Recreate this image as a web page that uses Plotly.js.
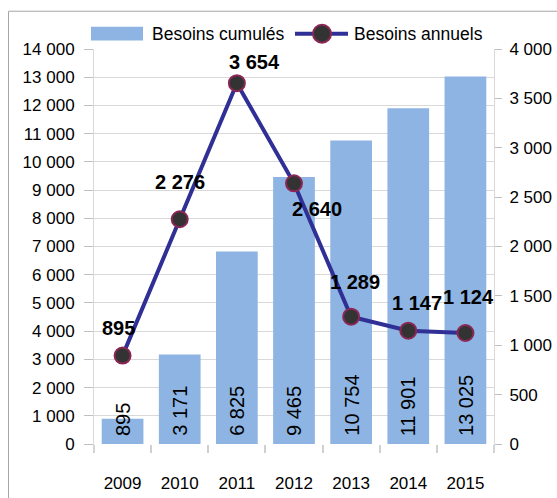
<!DOCTYPE html>
<html>
<head>
<meta charset="utf-8">
<script src="https://cdn.plot.ly/plotly-3.0.1.min.js"></script>
<style>
html,body{margin:0;padding:0;background:#fff;}
#chart{width:557px;height:498px;}
</style>
</head>
<body>
<div id="chart"></div>
<script>
// ---- data ----
const years = ['2009','2010','2011','2012','2013','2014','2015'];
const cumulative = [895, 3171, 6825, 9465, 10754, 11901, 13025];
const annual = [895, 2276, 3654, 2640, 1289, 1147, 1124];
const seriesNames = ['Besoins cumulés', 'Besoins annuels'];

// ---- style ----
const FONT = '"Liberation Sans", Arial, sans-serif';
const barColor = '#8db4e2';
const lineColor = '#2f2f96';
const gridColor = '#d9d9d9';

function fmt(v){ return String(v).replace(/\B(?=(\d{3})+(?!\d))/g, '\u00a0'); }

// label offsets (pixels) for annual labels relative to their points
const lblShift = [[-4,28],[0,37],[18,21],[23,-26],[4,35],[9,28],[3,36]];

const traces = [
  {type:'bar', x:years, y:cumulative, name:seriesNames[0], marker:{color:barColor}, yaxis:'y', hoverinfo:'x+y', showlegend:false},
  {type:'scatter', mode:'lines+markers', x:years, y:annual, name:seriesNames[1], yaxis:'y2',
   line:{color:lineColor, width:4},
   marker:{size:16, color:'#333333', line:{color:'#8b2755', width:2}}, showlegend:false}
];

const annotations = [];
years.forEach((yr,i)=>{
  annotations.push({x:i, y:0, xref:'x', yref:'y', text:fmt(cumulative[i]), showarrow:false,
    textangle:-90, yanchor:'bottom', xanchor:'center', yshift:6,
    font:{family:FONT, size:20, color:'#000'}});
  annotations.push({x:i, y:annual[i], xref:'x', yref:'y2', text:'<b>'+fmt(annual[i])+'</b>', showarrow:false,
    xanchor:'center', yanchor:'middle', xshift:lblShift[i][0], yshift:lblShift[i][1],
    font:{family:FONT, size:20, color:'#000'}});
});

// plot area pixel geometry -> paper coords helpers
const L=94, R=494, T=49.3, B=444.5;
const px = v => (v-L)/(R-L);
const py = v => (B-v)/(B-T);

// custom legend
annotations.push({xref:'paper', yref:'paper', x:px(150), y:py(34), xanchor:'left', yanchor:'middle',
  text:seriesNames[0], showarrow:false, font:{family:FONT, size:17.5, color:'#000'}});
annotations.push({xref:'paper', yref:'paper', x:px(352), y:py(34), xanchor:'left', yanchor:'middle',
  text:seriesNames[1], showarrow:false, font:{family:FONT, size:17.5, color:'#000'}});

const shapes = [
  // outer frame
  {type:'rect', xref:'paper', yref:'paper', x0:px(8.5), x1:px(600), y0:py(600), y1:py(11.5),
   line:{color:'#a6a6a6', width:1}, fillcolor:'rgba(0,0,0,0)', layer:'below'},
  // axis stubs below zero
  {type:'line', xref:'paper', yref:'paper', x0:0, x1:0, y0:py(452), y1:0, line:{color:gridColor, width:1}},
  {type:'line', xref:'paper', yref:'paper', x0:1, x1:1, y0:py(452), y1:0, line:{color:gridColor, width:1}},
  // legend swatch
  {type:'rect', xref:'paper', yref:'paper', x0:px(91), x1:px(143), y0:py(40.7), y1:py(27),
   line:{width:0}, fillcolor:barColor},
  // legend line
  {type:'line', xref:'paper', yref:'paper', x0:px(295), x1:px(348), y0:py(34), y1:py(34),
   line:{color:lineColor, width:4}},
  // legend marker
  {type:'circle', xref:'paper', yref:'paper', x0:px(313), x1:px(331), y0:py(43), y1:py(25),
   line:{color:'#8b2755', width:2}, fillcolor:'#333333'}
];

const tickFont = {family:FONT, size:17, color:'#000'};

const layout = {
  width:557, height:498,
  margin:{l:L, r:557-R, t:T, b:498-B, pad:0},
  paper_bgcolor:'#fff', plot_bgcolor:'#fff',
  separators:', ',
  showlegend:false,
  bargap:0.27,
  font:{family:FONT, size:17, color:'#000'},
  xaxis:{type:'category', range:[-0.5,6.5], showgrid:false, showline:false, zeroline:false,
    ticks:'outside', tickson:'boundaries', ticklen:8, tickwidth:2, tickcolor:'#d0d0d0',
    tickangle:0, ticklabelstandoff:27, tickfont:tickFont},
  yaxis:{range:[0,14000], dtick:1000, tickformat:',d', showgrid:true, gridcolor:gridColor, gridwidth:1,
    zeroline:false, showline:true, linecolor:gridColor, linewidth:1,
    ticks:'outside', ticklen:9, tickcolor:'#bfbfbf', tickwidth:1, ticklabelstandoff:6,
    tickfont:tickFont},
  yaxis2:{range:[0,4000], dtick:500, tickformat:',d', overlaying:'y', side:'right', showgrid:false,
    zeroline:false, showline:true, linecolor:gridColor, linewidth:1,
    ticks:'outside', ticklen:7, tickcolor:'#bfbfbf', tickwidth:1, ticklabelstandoff:4,
    tickfont:tickFont},
  annotations:annotations,
  shapes:shapes
};

Plotly.newPlot('chart', traces, layout, {displayModeBar:false, staticPlot:true});
</script>
</body>
</html>
